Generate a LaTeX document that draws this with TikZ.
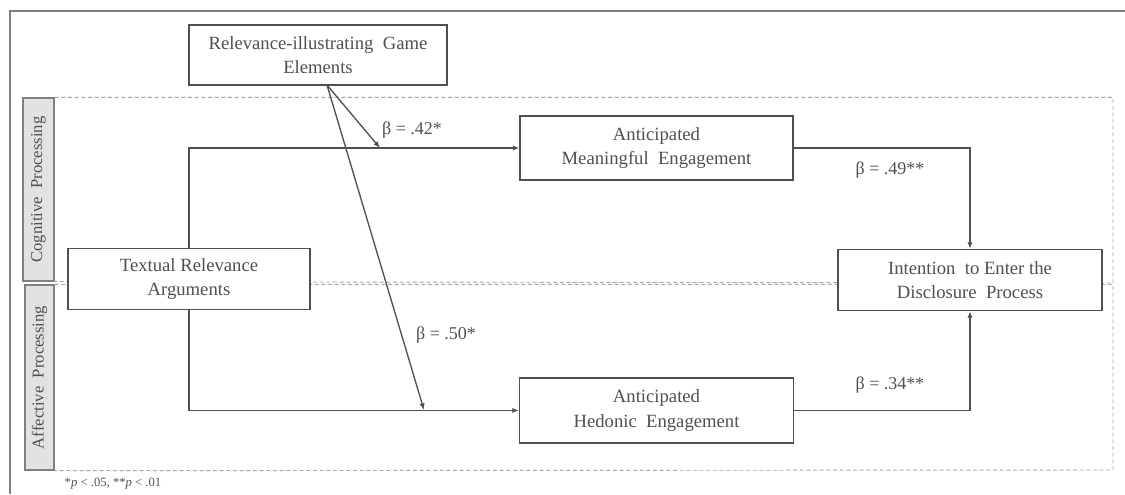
\documentclass[tikz,border=0pt]{standalone}
\usepackage{fontspec}
\setmainfont{Liberation Serif}
\usetikzlibrary{arrows.meta}

\definecolor{ink}{HTML}{505050}
\definecolor{dashgray}{HTML}{A8A8A8}
\definecolor{tabgray}{HTML}{E2E2E2}

\begin{document}
\begin{tikzpicture}[x=0.75pt, y=-0.75pt,
  box/.style={draw=ink, line width=0.8pt, fill=white, align=center, text=ink,
    font=\fontsize{14}{18.5}\selectfont, inner sep=0pt},
  link/.style={draw=ink, line width=1pt, -{Latex[length=5pt,width=4pt]}},
  lane/.style={draw=dashgray, line width=0.7pt, dash pattern=on 3pt off 2pt},
  tab/.style={draw=gray, fill=tabgray, line width=1pt, rotate=90, text=ink,
    font=\fontsize{12.5}{14}\selectfont, inner sep=0pt},
  coef/.style={text=ink, font=\fontsize{13.5}{15}\selectfont}]

\useasboundingbox (0,0) rectangle (1125,494);
\draw[gray, line width=0.8pt] (10,494) -- (10,11) -- (1125,11);

% processing lanes
\node[tab, minimum width=137.25pt, minimum height=23.25pt] (cog) at (38.5,189.5) {Cognitive~ Processing};
\node[tab, minimum width=138.75pt, minimum height=21.75pt] (aff) at (39.5,377.5) {Affective~ Processing};
\draw[lane] (cog.south east) -| (1113,283) -- (cog.south west);
\draw[lane] (aff.south east) -| (1113,470) -- (aff.south west);

% constructs
\node[box, minimum width=193.5pt, minimum height=45pt] (game) at (318,55) {Relevance-illustrating~ Game\\Elements};
\node[box, minimum width=181.5pt, minimum height=45.75pt] (textual) at (189,279) {Textual Relevance\\Arguments};
\node[box, minimum width=204.75pt, minimum height=48pt] (meaning) at (656.5,148) {Anticipated\\Meaningful~ Engagement};
\node[box, minimum width=205.5pt, minimum height=48.75pt] (hedonic) at (656.5,410.5) {Anticipated\\Hedonic~ Engagement};
\node[box, minimum width=198pt, minimum height=45.75pt] (intent) at (970,280) {Intention~ to Enter the\\Disclosure~ Process};

\draw[link] (textual.north) |- (meaning.west);
\draw[link] (textual.south) |- (hedonic.west);
\draw[link] (meaning.east) -| (intent.north);
\draw[link] (hedonic.east) -| (intent.south);

% moderation by game elements
\coordinate (gs) at (327,85);
\coordinate (mod1) at (380,148);
\coordinate (mod2) at (424,410);
\draw[link] (gs) -- (mod1);
\draw[link] (gs) -- (mod2);

\node[coef] (b1) at (412,130) {β = .42*};
\node[coef] (b2) at (446,335) {β = .50*};
\node[coef] (b3) at (890,170) {β = .49**};
\node[coef] (b4) at (890,385) {β = .34**};

\node[text=ink, font=\fontsize{9.5}{11}\selectfont, anchor=west] (note) at (60,484) {*\textit{p} < .05, **\textit{p} < .01};

\end{tikzpicture}
\end{document}
